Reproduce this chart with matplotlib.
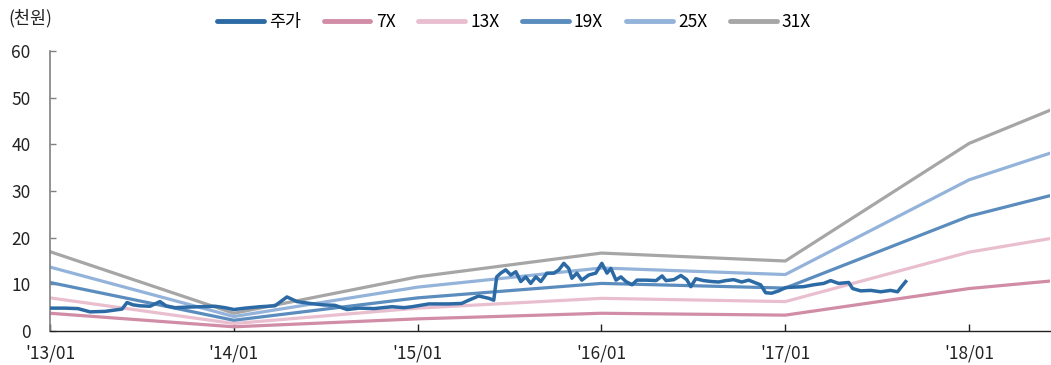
import matplotlib
matplotlib.use("Agg")
import matplotlib.pyplot as plt

plt.rcParams['font.family'] = ['Noto Sans CJK KR', 'DejaVu Sans']

# Valuation band anchor dates (decimal years) and implied prices (천원)
band_dates = [2013.0, 2014.0, 2015.0, 2016.0, 2017.0, 2018.0, 2018.44]
band_7x = [3.8, 0.9, 2.6, 3.8, 3.4, 9.1, 10.7]
band_13x = [7.1, 1.6, 4.9, 7.0, 6.3, 16.9, 19.8]
band_19x = [10.4, 2.3, 7.1, 10.2, 9.2, 24.6, 29.0]
band_25x = [13.7, 3.1, 9.4, 13.5, 12.1, 32.4, 38.1]
band_31x = [17.0, 3.8, 11.6, 16.7, 15.0, 40.2, 47.3]

# Share price (천원)
price_dates = [
    2013.000, 2013.082, 2013.152, 2013.218, 2013.299, 2013.354, 2013.392, 2013.419,
    2013.452, 2013.490, 2013.544, 2013.598, 2013.631, 2013.680, 2013.734, 2013.816,
    2013.898, 2013.952, 2014.001, 2014.061, 2014.142, 2014.224, 2014.289, 2014.344,
    2014.415, 2014.485, 2014.550, 2014.616, 2014.681, 2014.763, 2014.861, 2014.926,
    2014.969, 2015.061, 2015.170, 2015.239, 2015.278, 2015.332, 2015.387, 2015.414,
    2015.430, 2015.452, 2015.479, 2015.507, 2015.534, 2015.561, 2015.588, 2015.615,
    2015.643, 2015.670, 2015.703, 2015.741, 2015.768, 2015.795, 2015.822, 2015.839,
    2015.866, 2015.893, 2015.931, 2015.969, 2016.002, 2016.030, 2016.051, 2016.079,
    2016.106, 2016.133, 2016.166, 2016.193, 2016.242, 2016.297, 2016.330, 2016.351,
    2016.394, 2016.432, 2016.464, 2016.486, 2016.513, 2016.556, 2016.600, 2016.638,
    2016.676, 2016.719, 2016.763, 2016.801, 2016.839, 2016.866, 2016.893, 2016.926,
    2016.964, 2017.002, 2017.045, 2017.100, 2017.154, 2017.209, 2017.247, 2017.290,
    2017.345, 2017.366, 2017.410, 2017.465, 2017.519, 2017.573, 2017.611, 2017.628,
    2017.655,
]
price = [
    4.9, 4.9, 4.8, 4.1, 4.2, 4.5, 4.7, 6.1,
    5.6, 5.4, 5.3, 6.3, 5.4, 5.0, 5.1, 5.2,
    5.3, 5.0, 4.6, 4.9, 5.2, 5.4, 7.3, 6.3,
    5.9, 5.6, 5.5, 4.6, 4.9, 4.8, 5.2, 5.0,
    5.2, 5.8, 5.8, 5.9, 6.6, 7.5, 7.0, 6.6,
    11.6, 12.4, 13.1, 12.0, 12.7, 10.6, 11.6, 10.2,
    11.6, 10.6, 12.4, 12.4, 13.1, 14.5, 13.4, 11.3,
    12.4, 10.9, 12.0, 12.4, 14.5, 12.4, 13.4, 10.9,
    11.6, 10.6, 9.9, 10.9, 10.9, 10.8, 11.8, 10.8,
    11.0, 11.9, 11.0, 9.5, 11.2, 10.8, 10.6, 10.5,
    10.8, 11.0, 10.5, 10.9, 10.3, 9.9, 8.2, 8.1,
    8.6, 9.3, 9.4, 9.5, 9.9, 10.2, 10.8, 10.2,
    10.4, 9.1, 8.6, 8.7, 8.4, 8.7, 8.4, 9.3,
    10.6,
]

tick_years = [2013, 2014, 2015, 2016, 2017, 2018]
tick_labels = ["'13/01", "'14/01", "'15/01", "'16/01", "'17/01", "'18/01"]
y_ticks = [0, 10, 20, 30, 40, 50, 60]

fig = plt.figure(figsize=(10.51, 3.65), dpi=100)
ax = fig.add_axes([50 / 1051, 34 / 365, 1000 / 1051, 280 / 365])

lw = 2.3
ax.plot(band_dates, band_7x, color='#d18ca6', lw=lw, label='7X', zorder=2)
ax.plot(band_dates, band_13x, color='#e9bfcf', lw=lw, label='13X', zorder=2)
ax.plot(band_dates, band_19x, color='#5b8cbe', lw=lw, label='19X', zorder=2)
ax.plot(band_dates, band_25x, color='#93b3da', lw=lw, label='25X', zorder=2)
ax.plot(band_dates, band_31x, color='#a6a6a6', lw=lw, label='31X', zorder=2)
ax.plot(price_dates, price, color='#2c6aa5', lw=2.5, label='주가', zorder=3)

ax.set_xlim(band_dates[0], band_dates[-1])
ax.set_ylim(0, 60)
ax.set_xticks(tick_years)
ax.set_xticklabels(tick_labels)
ax.set_yticks(y_ticks)

for s in ('top', 'right'):
    ax.spines[s].set_visible(False)
ax.spines['left'].set_color('#808080')
ax.spines['left'].set_linewidth(1.2)
ax.spines['bottom'].set_color('#222222')
ax.spines['bottom'].set_linewidth(1.0)
ax.tick_params(axis='y', direction='in', length=4, width=1, color='#808080',
               labelsize=12.5, pad=14, labelcolor='#222222')
ax.tick_params(axis='x', direction='in', length=5, width=1, color='#222222',
               labelsize=12.5, pad=10, labelcolor='#222222')

fig.text(8 / 1051, 1 - 18 / 365, '(천원)', fontsize=12.5, va='center', ha='left',
         color='#222222')

handles, labels = ax.get_legend_handles_labels()
order = [5, 0, 1, 2, 3, 4]
leg = fig.legend([handles[i] for i in order], [labels[i] for i in order],
                 loc='center', bbox_to_anchor=(514 / 1051, 1 - 22 / 365),
                 ncol=6, frameon=False, fontsize=12.5, handlelength=2.7,
                 handletextpad=0.3, columnspacing=1.3)
for line in leg.get_lines():
    line.set_linewidth(3.5)
    line.set_solid_capstyle('round')

fig.savefig('out.png', dpi=100)
